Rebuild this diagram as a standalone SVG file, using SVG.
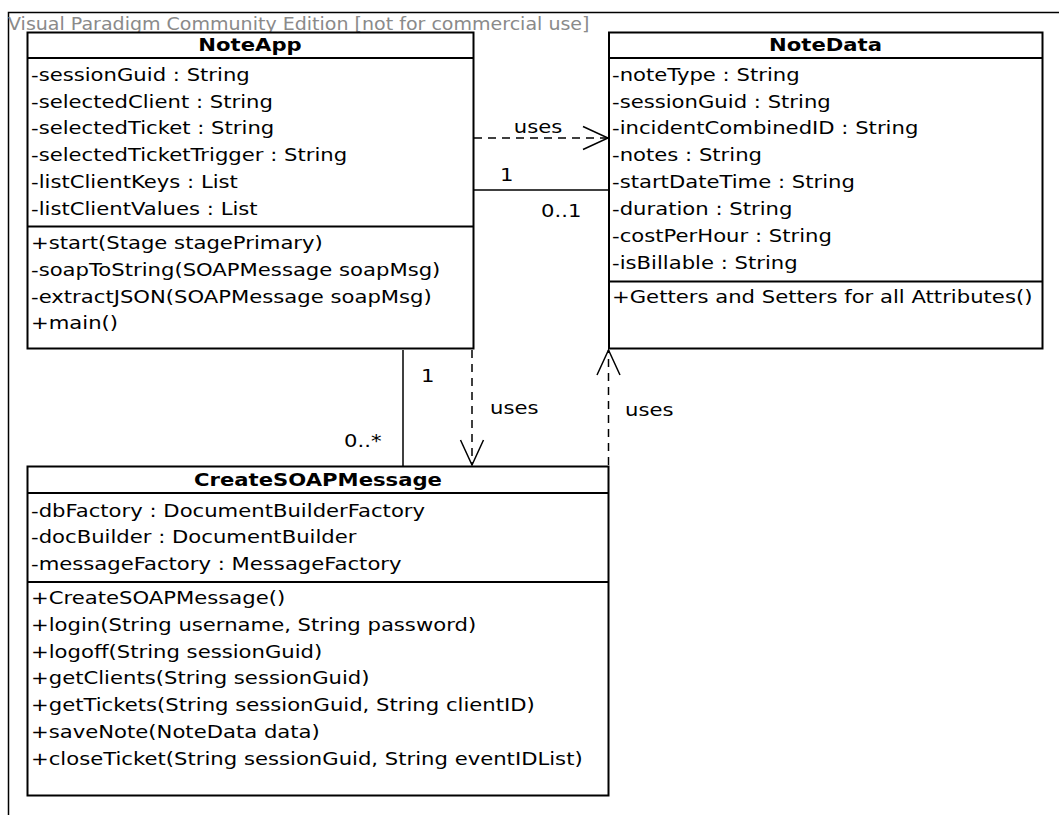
<svg xmlns="http://www.w3.org/2000/svg" width="1059" height="815" viewBox="0 0 1059 815">
<defs>
<style>
text{font-family:"DejaVu Sans",sans-serif;font-size:17px;fill:#000}
.t{font-weight:bold;text-anchor:middle}
.wm{fill:#8a8a8a}
.box{fill:#fff;stroke:#000;stroke-width:2}
.sep{stroke:#000;stroke-width:2}
.ln{fill:none;stroke:#000;stroke-width:1.5}
.dash{fill:none;stroke:#000;stroke-width:1.5;stroke-dasharray:8,6}
</style>
<marker id="open" viewBox="0 0 28 26" refX="26" refY="13" markerWidth="28" markerHeight="26" markerUnits="userSpaceOnUse" orient="auto">
<path d="M1,1.5 L26,13 L1,24.5" fill="none" stroke="#000" stroke-width="1.5"/>
</marker>
</defs>
<rect width="1059" height="815" fill="#fff"/>
<g id="frame">
<path d="M8.5,815 V12.5 H1059" fill="none" stroke="#000" stroke-width="1.5"/>
<text transform="translate(8,30) scale(1.12,1)" class="wm">Visual Paradigm Community Edition [not for commercial use]</text>
</g>
<g id="connectors">
<path class="dash" d="M474,138 H608" marker-end="url(#open)"/>
<text transform="translate(538,133) scale(1.245,1)" text-anchor="middle">uses</text>
<path class="ln" d="M474,190 H609"/>
<text transform="translate(500,181) scale(1.245,1)">1</text>
<text transform="translate(541,217) scale(1.245,1)">0..1</text>
<path class="ln" d="M403,350 V466"/>
<text transform="translate(421,382) scale(1.245,1)">1</text>
<text transform="translate(344,447) scale(1.245,1)">0..*</text>
<path class="dash" d="M472,350 V465" marker-end="url(#open)"/>
<text transform="translate(490,414) scale(1.245,1)">uses</text>
<path class="dash" d="M608.5,465 V350" marker-end="url(#open)"/>
<text transform="translate(625,416) scale(1.245,1)">uses</text>
</g>
<g id="NoteApp">
<rect class="box" x="27.5" y="32.5" width="446" height="316"/>
<path class="sep" d="M27.5,58 H473.5 M27.5,226.5 H473.5"/>
<text transform="translate(250,51) scale(1.245,1)" class="t">NoteApp</text>
<text transform="translate(31,81) scale(1.245,1)">-sessionGuid : String</text>
<text transform="translate(31,108) scale(1.245,1)">-selectedClient : String</text>
<text transform="translate(31,134) scale(1.245,1)">-selectedTicket : String</text>
<text transform="translate(31,161) scale(1.245,1)">-selectedTicketTrigger : String</text>
<text transform="translate(31,188) scale(1.245,1)">-listClientKeys : List</text>
<text transform="translate(31,215) scale(1.245,1)">-listClientValues : List</text>
<text transform="translate(31,249) scale(1.245,1)">+start(Stage stagePrimary)</text>
<text transform="translate(31,276) scale(1.245,1)">-soapToString(SOAPMessage soapMsg)</text>
<text transform="translate(31,303) scale(1.245,1)">-extractJSON(SOAPMessage soapMsg)</text>
<text transform="translate(31,329) scale(1.245,1)">+main()</text>
</g>
<g id="NoteData">
<rect class="box" x="609" y="32.5" width="433.5" height="316"/>
<path class="sep" d="M609,58 H1042.5 M609,281.5 H1042.5"/>
<text transform="translate(825.5,51) scale(1.245,1)" class="t">NoteData</text>
<text transform="translate(612,81) scale(1.245,1)">-noteType : String</text>
<text transform="translate(612,108) scale(1.245,1)">-sessionGuid : String</text>
<text transform="translate(612,134) scale(1.245,1)">-incidentCombinedID : String</text>
<text transform="translate(612,161) scale(1.245,1)">-notes : String</text>
<text transform="translate(612,188) scale(1.245,1)">-startDateTime : String</text>
<text transform="translate(612,215) scale(1.245,1)">-duration : String</text>
<text transform="translate(612,242) scale(1.245,1)">-costPerHour : String</text>
<text transform="translate(612,269) scale(1.245,1)">-isBillable : String</text>
<text transform="translate(612,303) scale(1.245,1)">+Getters and Setters for all Attributes()</text>
</g>
<g id="CreateSOAPMessage">
<rect class="box" x="27.5" y="466.5" width="581" height="329"/>
<path class="sep" d="M27.5,493 H608.5 M27.5,582 H608.5"/>
<text transform="translate(318,486) scale(1.245,1)" class="t">CreateSOAPMessage</text>
<text transform="translate(31,517) scale(1.245,1)">-dbFactory : DocumentBuilderFactory</text>
<text transform="translate(31,543) scale(1.245,1)">-docBuilder : DocumentBuilder</text>
<text transform="translate(31,570) scale(1.245,1)">-messageFactory : MessageFactory</text>
<text transform="translate(31,604) scale(1.245,1)">+CreateSOAPMessage()</text>
<text transform="translate(31,631) scale(1.245,1)">+login(String username, String password)</text>
<text transform="translate(31,658) scale(1.245,1)">+logoff(String sessionGuid)</text>
<text transform="translate(31,684) scale(1.245,1)">+getClients(String sessionGuid)</text>
<text transform="translate(31,711) scale(1.245,1)">+getTickets(String sessionGuid, String clientID)</text>
<text transform="translate(31,738) scale(1.245,1)">+saveNote(NoteData data)</text>
<text transform="translate(31,765) scale(1.245,1)">+closeTicket(String sessionGuid, String eventIDList)</text>
</g>
</svg>
